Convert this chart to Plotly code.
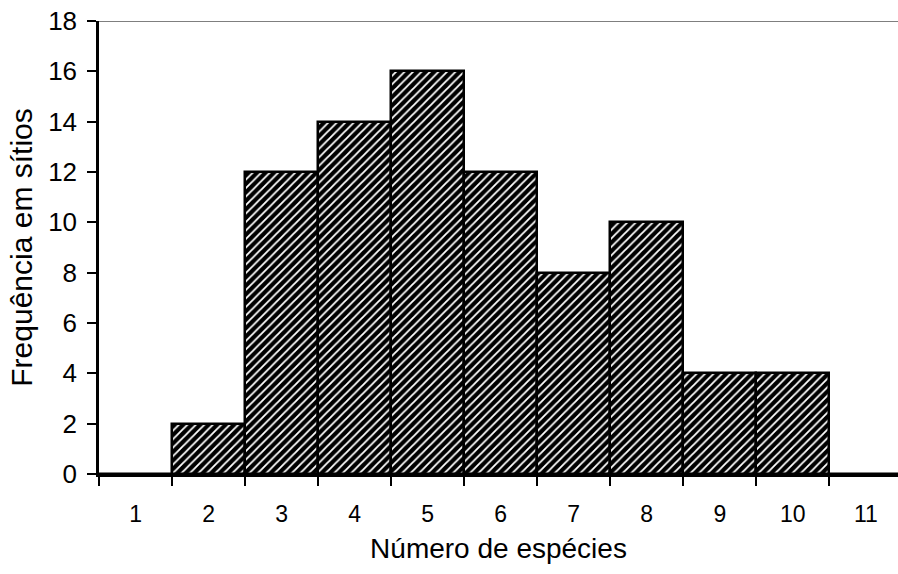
import plotly.graph_objects as go

# Número de espécies por sítio e frequência observada
categorias = ["1", "2", "3", "4", "5", "6", "7", "8", "9", "10", "11"]
frequencias = [0, 2, 12, 14, 16, 12, 8, 10, 4, 4, 0]

fonte = "Liberation Sans, Arial, sans-serif"

fig = go.Figure(
    go.Bar(
        x=categorias,
        y=frequencias,
        marker=dict(
            color="black",
            line=dict(color="black", width=2.5),
            pattern=dict(
                shape="/",
                bgcolor="black",
                fgcolor="white",
                size=6,
                solidity=0.3,
                fillmode="replace",
            ),
        ),
        showlegend=False,
    )
)

fig.update_layout(
    width=898,
    height=574,
    margin=dict(l=99, r=0, t=21, b=100),
    paper_bgcolor="white",
    plot_bgcolor="white",
    bargap=0,
    font=dict(family=fonte, color="black", size=20),
    xaxis=dict(
        type="category",
        range=[-0.5, 10.44],
        tickson="boundaries",
        ticks="outside",
        ticklen=9,
        tickwidth=2,
        tickcolor="black",
        showline=True,
        linecolor="black",
        linewidth=2.5,
        showgrid=False,
        zeroline=False,
        ticklabelstandoff=18,
        tickfont=dict(family=fonte, size=23),
        title=dict(text="Número de espécies", font=dict(size=28), standoff=13),
    ),
    yaxis=dict(
        range=[0, 18],
        dtick=2,
        ticks="outside",
        ticklen=9,
        tickwidth=2,
        tickcolor="black",
        showline=True,
        linecolor="black",
        linewidth=2.5,
        showgrid=False,
        zeroline=False,
        ticklabelstandoff=5,
        tickfont=dict(family=fonte, size=26),
        title=dict(text="Frequência em sítios", font=dict(size=30), standoff=7),
    ),
    shapes=[
        dict(
            type="line",
            xref="paper",
            yref="y",
            x0=0,
            x1=1,
            y0=18,
            y1=18,
            line=dict(color="black", width=1.2),
        )
    ],
)

fig.write_html("out.html")
